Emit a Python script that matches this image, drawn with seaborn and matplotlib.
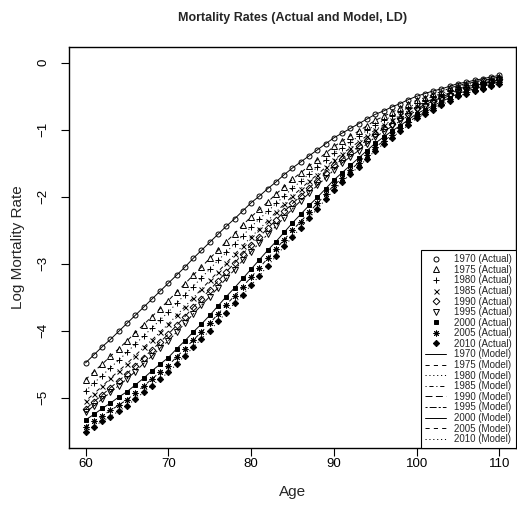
import matplotlib
matplotlib.use("Agg")
import matplotlib.pyplot as plt
import seaborn as sns
from matplotlib.lines import Line2D

# ages 60..110 and years shown
ages = list(range(60, 111))
years = [1970, 1975, 1980, 1985, 1990, 1995, 2000, 2005, 2010]

# log mortality rates (one value per age)
rate_1970 = [-4.48, -4.36, -4.24, -4.13, -4.01, -3.89, -3.77, -3.65, -3.53, -3.41,
             -3.29, -3.17, -3.05, -2.92, -2.80, -2.68, -2.56, -2.44, -2.33, -2.21,
             -2.09, -1.99, -1.88, -1.78, -1.67, -1.57, -1.48, -1.39, -1.30, -1.21,
             -1.12, -1.05, -0.98, -0.91, -0.84, -0.77, -0.72, -0.66, -0.61, -0.55,
             -0.50, -0.46, -0.42, -0.39, -0.35, -0.31, -0.29, -0.26, -0.24, -0.21, -0.19]
rate_1975 = [-4.73, -4.61, -4.50, -4.38, -4.27, -4.15, -4.03, -3.91, -3.79, -3.67,
             -3.55, -3.42, -3.30, -3.17, -3.05, -2.92, -2.80, -2.67, -2.55, -2.42,
             -2.30, -2.19, -2.08, -1.96, -1.85, -1.74, -1.64, -1.54, -1.45, -1.35,
             -1.25, -1.17, -1.09, -1.02, -0.94, -0.86, -0.80, -0.74, -0.68, -0.62,
             -0.56, -0.52, -0.47, -0.43, -0.38, -0.34, -0.31, -0.29, -0.26, -0.24, -0.21]
rate_1980 = [-4.90, -4.78, -4.67, -4.55, -4.44, -4.32, -4.20, -4.08, -3.96, -3.84,
             -3.72, -3.59, -3.46, -3.34, -3.21, -3.08, -2.95, -2.83, -2.70, -2.58,
             -2.45, -2.33, -2.22, -2.10, -1.99, -1.87, -1.77, -1.66, -1.56, -1.45,
             -1.35, -1.27, -1.18, -1.10, -1.01, -0.93, -0.86, -0.80, -0.73, -0.67,
             -0.60, -0.55, -0.50, -0.46, -0.41, -0.36, -0.33, -0.30, -0.28, -0.25, -0.22]
rate_1985 = [-5.05, -4.94, -4.83, -4.71, -4.60, -4.49, -4.37, -4.25, -4.14, -4.02,
             -3.90, -3.77, -3.64, -3.51, -3.38, -3.25, -3.12, -2.99, -2.86, -2.73,
             -2.60, -2.48, -2.36, -2.23, -2.11, -1.99, -1.88, -1.77, -1.67, -1.56,
             -1.45, -1.36, -1.27, -1.18, -1.09, -1.00, -0.93, -0.86, -0.78, -0.71,
             -0.64, -0.59, -0.54, -0.49, -0.44, -0.39, -0.36, -0.33, -0.29, -0.26, -0.23]
rate_1990 = [-5.17, -5.06, -4.96, -4.85, -4.75, -4.64, -4.52, -4.40, -4.29, -4.17,
             -4.05, -3.92, -3.79, -3.65, -3.52, -3.39, -3.26, -3.12, -2.99, -2.85,
             -2.72, -2.60, -2.47, -2.35, -2.22, -2.10, -1.99, -1.87, -1.76, -1.64,
             -1.53, -1.44, -1.34, -1.25, -1.15, -1.06, -0.98, -0.91, -0.83, -0.76,
             -0.68, -0.63, -0.57, -0.52, -0.46, -0.41, -0.38, -0.35, -0.31, -0.28, -0.25]
rate_1995 = [-5.22, -5.12, -5.02, -4.92, -4.82, -4.72, -4.61, -4.49, -4.38, -4.26,
             -4.15, -4.02, -3.89, -3.75, -3.62, -3.49, -3.36, -3.22, -3.09, -2.95,
             -2.82, -2.69, -2.56, -2.44, -2.31, -2.18, -2.06, -1.95, -1.83, -1.72,
             -1.60, -1.50, -1.40, -1.31, -1.21, -1.11, -1.03, -0.95, -0.87, -0.79,
             -0.71, -0.65, -0.60, -0.54, -0.49, -0.43, -0.40, -0.36, -0.33, -0.29, -0.26]
rate_2000 = [-5.33, -5.25, -5.16, -5.08, -4.99, -4.91, -4.81, -4.71, -4.60, -4.50,
             -4.40, -4.27, -4.15, -4.02, -3.90, -3.77, -3.63, -3.49, -3.36, -3.22,
             -3.08, -2.94, -2.80, -2.67, -2.53, -2.39, -2.26, -2.13, -2.01, -1.88,
             -1.75, -1.64, -1.53, -1.42, -1.31, -1.20, -1.11, -1.02, -0.94, -0.85,
             -0.76, -0.70, -0.64, -0.58, -0.52, -0.46, -0.42, -0.39, -0.35, -0.32, -0.28]
rate_2005 = [-5.43, -5.35, -5.27, -5.19, -5.11, -5.03, -4.93, -4.83, -4.72, -4.62,
             -4.52, -4.39, -4.27, -4.14, -4.02, -3.89, -3.75, -3.61, -3.48, -3.34,
             -3.20, -3.06, -2.92, -2.78, -2.64, -2.50, -2.37, -2.23, -2.10, -1.96,
             -1.83, -1.72, -1.60, -1.49, -1.37, -1.26, -1.17, -1.08, -0.98, -0.89,
             -0.80, -0.74, -0.67, -0.61, -0.54, -0.48, -0.44, -0.40, -0.37, -0.33, -0.29]
rate_2010 = [-5.51, -5.43, -5.35, -5.28, -5.20, -5.12, -5.02, -4.92, -4.82, -4.72,
             -4.62, -4.50, -4.37, -4.25, -4.12, -4.00, -3.86, -3.73, -3.59, -3.46,
             -3.32, -3.18, -3.03, -2.89, -2.74, -2.60, -2.46, -2.32, -2.18, -2.04,
             -1.90, -1.78, -1.66, -1.55, -1.43, -1.31, -1.21, -1.12, -1.02, -0.93,
             -0.83, -0.76, -0.70, -0.63, -0.57, -0.50, -0.46, -0.42, -0.39, -0.35, -0.31]

rates = [rate_1970, rate_1975, rate_1980, rate_1985, rate_1990,
         rate_1995, rate_2000, rate_2005, rate_2010]

sns.set_style("white")
plt.rcParams['font.family'] = ['Liberation Sans', 'DejaVu Sans']
plt.rcParams['lines.scale_dashes'] = False

# R style point symbols and line types
marker_list = ['o', '^', '+', 'x', 'D', 'v', 's', (8, 2, 0), 'D']
marker_size = [3.6, 3.8, 4.5, 3.6, 3.4, 3.8, 3.0, 4.2, 3.2]
marker_fill = ['none', 'none', 'black', 'black', 'none', 'none', 'black', 'black', 'black']
line_styles = ['-', (0, (3, 3)), (0, (0.8, 2)), (0, (0.8, 2, 3, 2)),
               (0, (5, 2.5)), (0, (1.5, 1.5, 5, 1.5)), '-', (0, (3, 3)), (0, (0.8, 2))]

fig = plt.figure(figsize=(5.17, 5.13), dpi=100)
ax = fig.add_axes([69 / 517, 1 - 448 / 513, 447 / 517, 401 / 513])

for i, yr in enumerate(years):
    sns.lineplot(x=ages, y=rates[i], ax=ax, color='black', lw=0.7,
                 linestyle=line_styles[i], errorbar=None)
    sns.lineplot(x=ages, y=rates[i], ax=ax, color='black', linestyle='',
                 marker=marker_list[i], markersize=marker_size[i],
                 markerfacecolor=marker_fill[i], markeredgecolor='black',
                 markeredgewidth=0.7, errorbar=None)

ax.set_xlim(58, 112)
ax.set_ylim(-5.75, 0.235)
ax.set_xticks([60, 70, 80, 90, 100, 110])
ax.set_yticks([0, -1, -2, -3, -4, -5])
ax.set_yticklabels(['0', '\u22121', '\u22122', '\u22123', '\u22124', '\u22125'],
                   rotation=90, va='center')
ax.tick_params(axis='both', direction='out', length=6, width=0.8,
               labelsize=9.5, colors='black')
ax.tick_params(axis='x', pad=1.5)
ax.tick_params(axis='y', pad=8)
ax.tick_params(bottom=True, left=True)
for sp in ax.spines.values():
    sp.set_color('black')
    sp.set_linewidth(1.0)
ax.set_xlabel('')
ax.set_ylabel('')

# legend
handles = []
labels = []
for i, yr in enumerate(years):
    handles.append(Line2D([], [], color='black', linestyle='', marker=marker_list[i],
                          markersize=marker_size[i], markerfacecolor=marker_fill[i],
                          markeredgecolor='black', markeredgewidth=0.7))
    labels.append(f'{yr} (Actual)')
for i, yr in enumerate(years):
    handles.append(Line2D([], [], color='black', lw=0.7, linestyle=line_styles[i]))
    labels.append(f'{yr} (Model)')
leg = ax.legend(handles, labels, loc='lower right', bbox_to_anchor=(1.0, 0.0),
                borderaxespad=0, fontsize=7, labelspacing=0.06, handlelength=2.2,
                handletextpad=0.8, borderpad=0.4, fancybox=False, framealpha=1)
leg.get_frame().set_edgecolor('black')
leg.get_frame().set_linewidth(0.8)

fig.text(293 / 517, 1 - 18 / 513, 'Mortality Rates (Actual and Model, LD)',
         ha='center', va='center', fontsize=9, fontweight='bold')
fig.text(293 / 517, 1 - 492 / 513, 'Age', ha='center', va='center', fontsize=11)
fig.text(18 / 517, 1 - 247 / 513, 'Log Mortality Rate', ha='center', va='center',
         fontsize=11, rotation=90)

fig.savefig('out.png', dpi=100)
